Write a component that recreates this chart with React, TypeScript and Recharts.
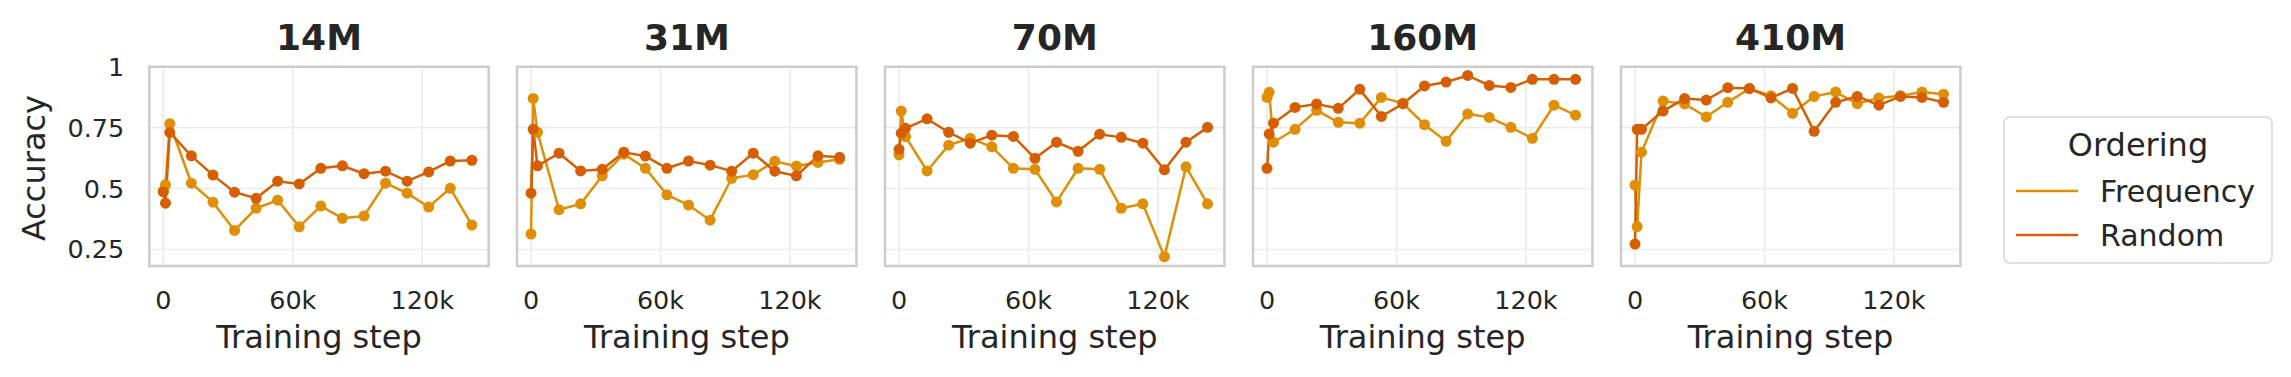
import React from 'react'
import {
  LineChart,
  Line,
  XAxis,
  YAxis,
  CartesianGrid,
  ReferenceArea,
} from 'recharts'

const steps = [0, 1000, 3000, 13000, 23000, 33000, 43000, 53000, 63000, 73000, 83000, 93000, 103000, 113000, 123000, 133000, 143000]

const models = ['14M', '31M', '70M', '160M', '410M']

const frequency14M = [0.49, 0.515, 0.766, 0.522, 0.444, 0.328, 0.419, 0.452, 0.343, 0.428, 0.378, 0.387, 0.522, 0.481, 0.424, 0.501, 0.35]
const random14M = [0.486, 0.44, 0.73, 0.634, 0.555, 0.485, 0.46, 0.53, 0.519, 0.583, 0.593, 0.561, 0.571, 0.53, 0.568, 0.613, 0.616]

const frequency31M = [0.313, 0.87, 0.731, 0.413, 0.437, 0.552, 0.641, 0.583, 0.474, 0.432, 0.37, 0.542, 0.557, 0.612, 0.592, 0.607, 0.62]
const random31M = [0.481, 0.743, 0.593, 0.645, 0.572, 0.579, 0.649, 0.633, 0.583, 0.613, 0.596, 0.571, 0.645, 0.571, 0.552, 0.634, 0.628]

const frequency70M = [0.638, 0.818, 0.713, 0.572, 0.678, 0.706, 0.671, 0.583, 0.579, 0.445, 0.583, 0.579, 0.419, 0.437, 0.22, 0.589, 0.437]
const random70M = [0.661, 0.727, 0.747, 0.786, 0.731, 0.686, 0.719, 0.714, 0.624, 0.69, 0.653, 0.723, 0.71, 0.686, 0.577, 0.69, 0.751]

const frequency160M = [0.874, 0.895, 0.69, 0.743, 0.821, 0.772, 0.768, 0.874, 0.85, 0.762, 0.694, 0.806, 0.792, 0.751, 0.706, 0.842, 0.801]
const random160M = [0.583, 0.724, 0.768, 0.833, 0.847, 0.829, 0.907, 0.796, 0.848, 0.921, 0.937, 0.964, 0.923, 0.915, 0.948, 0.948, 0.948]

const frequency410M = [0.514, 0.344, 0.649, 0.859, 0.847, 0.794, 0.854, 0.91, 0.881, 0.809, 0.878, 0.896, 0.848, 0.872, 0.881, 0.896, 0.887]
const random410M = [0.272, 0.743, 0.743, 0.818, 0.869, 0.863, 0.914, 0.911, 0.872, 0.911, 0.735, 0.854, 0.878, 0.842, 0.878, 0.874, 0.854]

const frequencyByModel = [frequency14M, frequency31M, frequency70M, frequency160M, frequency410M]
const randomByModel = [random14M, random31M, random70M, random160M, random410M]

const xTicks = [0, 60000, 120000]
const yTicks = [0.25, 0.5, 0.75, 1]

const FREQ_COLOR = '#de8f05'
const RAND_COLOR = '#d55e00'
const TEXT = '#262626'
const FONT = 'DejaVu Sans'

const X_DOMAIN = [-6500, 150800]
const Y_DOMAIN = [0.182, 1]

const PANEL_LEFT = 149.3
const PANEL_STEP = 367.9
const PLOT_W = 339.4
const PLOT_TOP = 66.7
const PLOT_BOTTOM = 266
const H = 377
const PAD = 5
const TICK_SIZE = 25.5

const fmtX = (v: number) => (v === 0 ? '0' : `${v / 1000}k`)
const fmtY = (v: number) => String(v)

function Panel({ idx }: { idx: number }) {
  const data = steps.map((step, i) => ({
    step,
    frequency: frequencyByModel[idx][i],
    random: randomByModel[idx][i],
  }))
  const first = idx === 0
  const panelLeft = PANEL_LEFT + PANEL_STEP * idx
  const yAxisW = first ? PANEL_LEFT : 0
  const left = first ? 0 : panelLeft - PAD
  const width = (first ? yAxisW : PAD) + PLOT_W + PAD

  return (
    <div style={{ position: 'absolute', left, top: 0 }}>
      <LineChart
        width={width}
        height={H}
        data={data}
        margin={{ top: PLOT_TOP, right: PAD, bottom: 0, left: first ? 0 : PAD }}
      >
        <CartesianGrid stroke="#ebebeb" strokeWidth={1.6} />
        <XAxis
          dataKey="step"
          type="number"
          domain={X_DOMAIN}
          ticks={xTicks}
          interval={0}
          tickFormatter={fmtX}
          height={H - PLOT_BOTTOM}
          axisLine={false}
          tickLine={false}
          tickSize={0}
          tickMargin={25}
          tick={{ fontSize: TICK_SIZE, fill: TEXT, fontFamily: FONT }}
        />
        <YAxis
          type="number"
          domain={Y_DOMAIN}
          ticks={yTicks}
          interval={0}
          tickFormatter={fmtY}
          hide={!first}
          width={yAxisW}
          axisLine={false}
          tickLine={false}
          tickSize={0}
          tickMargin={25}
          tick={{ fontSize: TICK_SIZE, fill: TEXT, fontFamily: FONT }}
        />
        <ReferenceArea
          x1={X_DOMAIN[0]}
          x2={X_DOMAIN[1]}
          y1={Y_DOMAIN[0]}
          y2={Y_DOMAIN[1]}
          fill="none"
          stroke="#cccccc"
          strokeWidth={2.5}
        />
        <Line
          dataKey="frequency"
          type="linear"
          stroke={FREQ_COLOR}
          strokeWidth={2.5}
          dot={{ r: 5.5, fill: FREQ_COLOR, stroke: FREQ_COLOR, strokeWidth: 0 }}
          activeDot={false}
          isAnimationActive={false}
        />
        <Line
          dataKey="random"
          type="linear"
          stroke={RAND_COLOR}
          strokeWidth={2.5}
          dot={{ r: 5.5, fill: RAND_COLOR, stroke: RAND_COLOR, strokeWidth: 0 }}
          activeDot={false}
          isAnimationActive={false}
        />
      </LineChart>
    </div>
  )
}

export default function App() {
  return (
    <div
      style={{
        position: 'absolute',
        left: 0,
        top: 0,
        width: 2291,
        height: H,
        background: '#fff',
        fontFamily: FONT,
      }}
    >
      {models.map((_, i) => (
        <Panel key={i} idx={i} />
      ))}
      {/* titles, axis labels and legend */}
      <svg
        width={2291}
        height={H}
        style={{ position: 'absolute', left: 0, top: 0, pointerEvents: 'none' }}
        fontFamily={FONT}
      >
        {models.map((m, i) => {
          const cx = PANEL_LEFT + PANEL_STEP * i + PLOT_W / 2
          return (
            <g key={m}>
              <text x={cx} y={50} textAnchor="middle" fontSize={36} fontWeight="bold" fill={TEXT}>
                {m}
              </text>
              <text x={cx} y={348} textAnchor="middle" fontSize={32} fill={TEXT}>
                Training step
              </text>
            </g>
          )
        })}
        <text
          x={45}
          y={168}
          transform="rotate(-90 45 168)"
          textAnchor="middle"
          fontSize={32}
          fill={TEXT}
        >
          Accuracy
        </text>
        <rect x={2004} y={117} width={268} height={146} rx={6} fill="#fff" stroke="#d6d6d6" strokeWidth={1.5} />
        <text x={2138} y={155.7} textAnchor="middle" fontSize={32} fill={TEXT}>
          Ordering
        </text>
        <line x1={2016} x2={2078} y1={191} y2={191} stroke={FREQ_COLOR} strokeWidth={2.6} />
        <text x={2100} y={201.7} fontSize={30} fill={TEXT}>
          Frequency
        </text>
        <line x1={2016} x2={2078} y1={235} y2={235} stroke={RAND_COLOR} strokeWidth={2.6} />
        <text x={2100} y={246} fontSize={30} fill={TEXT}>
          Random
        </text>
      </svg>
    </div>
  )
}
